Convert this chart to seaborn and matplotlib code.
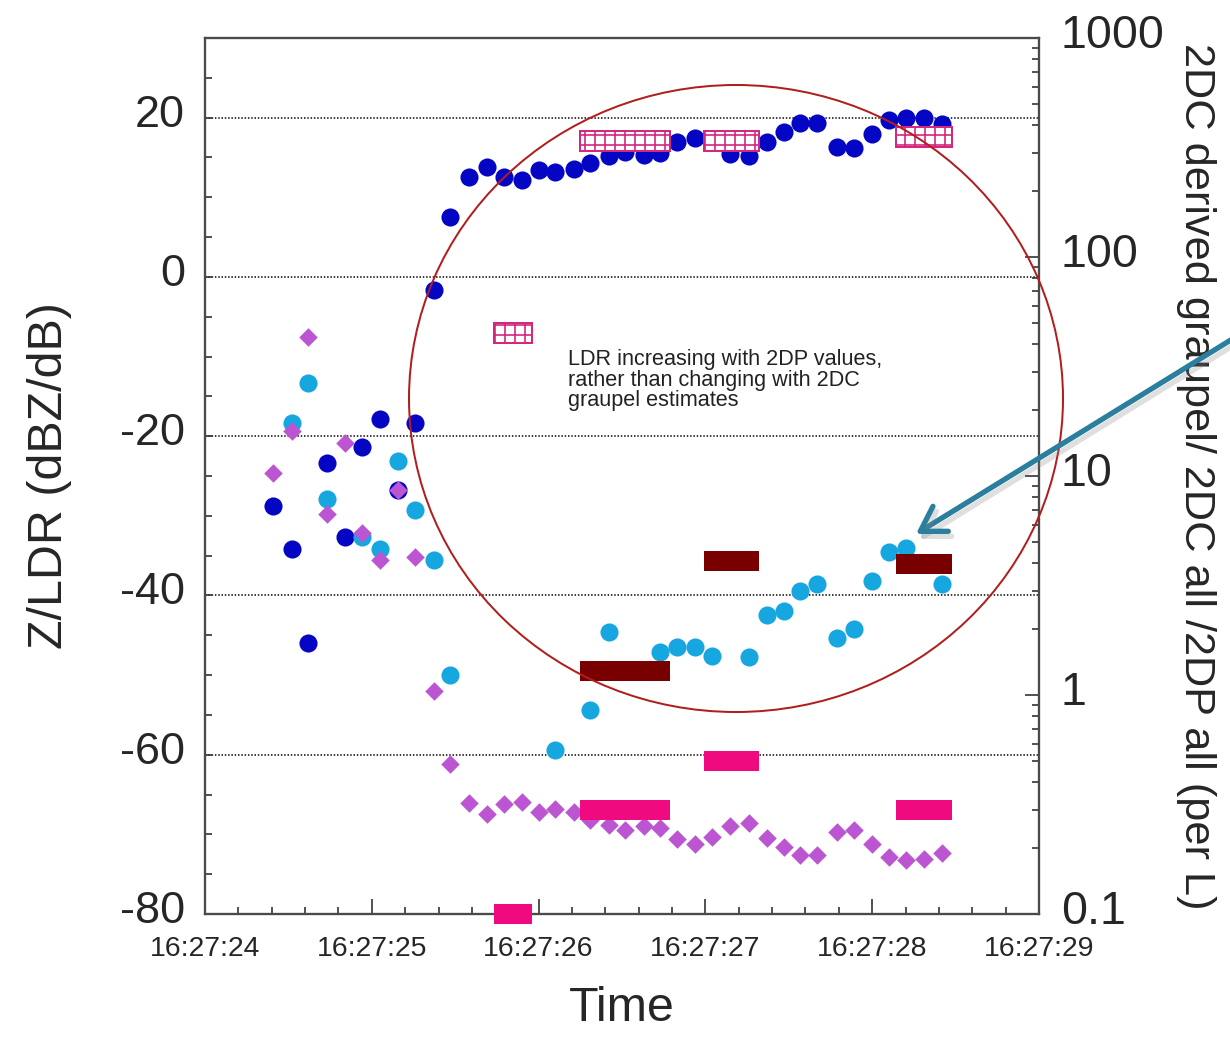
import numpy as np
import pandas as pd
import matplotlib
matplotlib.use("Agg")
import matplotlib.pyplot as plt
import seaborn as sns
from matplotlib.patches import Ellipse, FancyArrowPatch
from matplotlib.ticker import MultipleLocator, FixedLocator, FuncFormatter, LogLocator, NullFormatter
from matplotlib.transforms import ScaledTranslation
import matplotlib.patheffects as pe

# ---------------- data (seconds after 16:27:00) ----------------
time_s = [24.41, 24.52, 24.62, 24.73, 24.84, 24.94, 25.05, 25.16, 25.26, 25.37,
          25.47, 25.58, 25.69, 25.79, 25.90, 26.00, 26.10, 26.21, 26.31, 26.42,
          26.52, 26.63, 26.73, 26.83, 26.94, 27.04, 27.15, 27.26, 27.37, 27.47,
          27.57, 27.67, 27.79, 27.89, 28.00, 28.10, 28.20, 28.31, 28.42]

nan = np.nan
z_dbz = [-28.8, -34.2, -46.0, -23.4, -32.6, -21.3, -17.9, -26.7, -18.4, -1.6,
         7.5, 12.5, 13.8, 12.5, 12.2, 13.4, 13.2, 13.5, 14.3, 15.2,
         15.7, 15.3, 15.5, 16.9, 17.5, 17.0, 15.4, 15.2, 16.9, 18.2,
         19.3, 19.3, 16.3, 16.2, 18.0, 19.7, 19.9, 19.9, 19.2]

ldr_a = [nan, -18.3, -13.3, -27.9, nan, -32.6, -34.2, -23.1, -29.3, -35.6,
         -50.0, nan, nan, nan, nan, nan, -59.4, nan, -54.4, -44.6,
         nan, nan, -47.1, -46.5, -46.5, -47.6, nan, -47.7, -42.5, -42.0,
         -39.5, -38.5, -45.4, -44.2, -38.2, -34.6, -34.1, nan, -38.6]

ldr_b = [-24.6, -19.4, -7.5, -29.8, -20.9, -32.2, -35.5, -26.7, -35.2, -52.0,
         -61.2, -66.0, -67.4, -66.2, -65.9, -67.2, -66.8, -67.2, -68.2, -68.8,
         -69.4, -68.9, -69.2, -70.6, -71.2, -70.3, -69.0, -68.6, -70.4, -71.6,
         -72.6, -72.6, -69.7, -69.5, -71.2, -72.9, -73.2, -73.1, -72.3]

interval_start = [25.73, 26.25, 26.99, 28.14]
interval_end = [25.96, 26.79, 27.32, 28.48]
graupel_2dc = [45.0, 339.0, 339.0, 353.0]
all_2dc = [nan, 1.29, 4.1, 3.98]
all_2dp = [0.10, 0.30, 0.50, 0.30]

x_ticks = [24, 25, 26, 27, 28, 29]
left_ticks = [-80, -60, -40, -20, 0, 20]
right_ticks = [0.1, 1, 10, 100, 1000]
right_labels = ["0.1", "1", "10", "100", "1000"]

# ---------------- style ----------------
sns.set_theme(style="white")
plt.rcParams['font.family'] = ['Liberation Sans', 'DejaVu Sans']
plt.rcParams['hatch.linewidth'] = 1.0

DPI = 120
W, H = 1230, 1038
fig = plt.figure(figsize=(W / DPI, H / DPI), dpi=DPI)
fig.patch.set_facecolor('white')

ax = fig.add_axes([205 / W, 1 - 914 / H, 834 / W, 876 / H])
ax.set_facecolor('white')

df = pd.DataFrame({"t": time_s, "z": z_dbz, "a": ldr_a, "b": ldr_b})

sns.scatterplot(data=df, x="t", y="z", ax=ax, color="#0505c4", s=118,
                linewidth=0, marker='o', zorder=3, legend=False)
sns.scatterplot(data=df, x="t", y="a", ax=ax, color="#17a7e0", s=118,
                linewidth=0, marker='o', zorder=4, legend=False)
sns.scatterplot(data=df, x="t", y="b", ax=ax, color="#bb55d2", s=62,
                linewidth=0, marker='D', zorder=5, legend=False)

ax.set_xlim(24, 29)
ax.set_ylim(-80, 30)
ax.xaxis.set_major_locator(FixedLocator(x_ticks))
ax.xaxis.set_minor_locator(MultipleLocator(0.2))
ax.xaxis.set_major_formatter(FuncFormatter(lambda v, p: f"16:27:{v:02.0f}"))
ax.yaxis.set_major_locator(FixedLocator(left_ticks))
ax.yaxis.set_minor_locator(MultipleLocator(5))
ax.yaxis.set_major_formatter(FuncFormatter(lambda v, p: f"{v:.0f}"))

ax.grid(axis='y', which='major', linestyle=(0, (1, 1.2)), color='black', linewidth=0.9)
ax.grid(axis='x', visible=False)

ax.tick_params(axis='x', which='major', direction='in', length=9, width=1.0,
               color='#333333', labelsize=17, pad=13, top=False, bottom=True)
ax.tick_params(axis='x', which='minor', direction='in', length=4.2, width=1.0,
               color='#333333', top=False, bottom=True)
ax.tick_params(axis='y', which='both', direction='in', length=4.2, width=1.0,
               color='#333333', labelsize=27, pad=12, left=True, right=False)

ax.set_xlabel("Time", fontsize=29)
ax.xaxis.set_label_coords(0.5, -0.082)
ax.xaxis.label.set_va('top')
ax.set_ylabel("Z/LDR (dBZ/dB)", fontsize=29)
ax.yaxis.set_label_coords(-0.16, 0.5)

for s in ax.spines.values():
    s.set_color('#4a4a4a')
    s.set_linewidth(1.3)

# ---------------- right axis ----------------
ax2 = ax.twinx()
ax2.set_yscale('log')
ax2.set_ylim(0.1, 1000)

BOX_F = 10 ** (20 / 219 / 2)
t0 = np.array(interval_start)
t1 = np.array(interval_end)


def draw_boxes(vals, **kw):
    v = np.array(vals, dtype=float)
    m = ~np.isnan(v)
    bars = ax2.bar(t0[m], v[m] * BOX_F - v[m] / BOX_F, bottom=v[m] / BOX_F,
                   width=(t1 - t0)[m], align='edge', **kw)
    for b in bars:
        b.set_clip_on(False)
    return bars


draw_boxes(all_2dp, color='#ef0a80', linewidth=0, zorder=3)
draw_boxes(all_2dc, color='#780000', linewidth=0, zorder=3)
draw_boxes(graupel_2dc, facecolor='white', edgecolor='#d4287f', hatch='++',
           linewidth=1.2, zorder=3)

ax2.set_xlim(24, 29)
ax2.set_ylim(0.1, 1000)
ax2.yaxis.set_major_locator(FixedLocator(right_ticks))
ax2.yaxis.set_major_formatter(FuncFormatter(
    lambda v, p: dict(zip(right_ticks, right_labels)).get(v, "")))
ax2.yaxis.set_minor_locator(LogLocator(base=10, subs=np.arange(2, 10)))
ax2.yaxis.set_minor_formatter(NullFormatter())
ax2.tick_params(axis='y', which='major', direction='in', length=8.4, width=1.0,
                color='#333333', labelsize=28, pad=13, right=True, left=False)
ax2.tick_params(axis='y', which='minor', direction='in', length=4.2, width=1.0,
                color='#333333', right=True, left=False)
ax2.grid(False)
for s in ax2.spines.values():
    s.set_color('#4a4a4a')
    s.set_linewidth(1.3)

ax2.set_ylabel("2DC derived graupel/ 2DC all /2DP all (per L)", fontsize=26,
               rotation=-90)
ax2.yaxis.label.set_rotation_mode('default')
ax2.yaxis.label.set_va('center')
ax2.yaxis.label.set_ha('center')
ax2.yaxis.set_label_coords((1196 - 205) / 834, 0.5)

# raise the y tick labels slightly, as in the original
shift = ScaledTranslation(0, 7 / DPI, fig.dpi_scale_trans)
for tk in ax.yaxis.get_major_ticks():
    tk.label1.set_transform(tk.label1.get_transform() + shift)
for tk in ax2.yaxis.get_major_ticks():
    tk.label2.set_transform(tk.label2.get_transform() + shift)

# ---------------- annotations ----------------
ax2.text((568 - 205) / 834, (914 - 349) / 876,
         "LDR increasing with 2DP values,\nrather than changing with 2DC\ngraupel estimates",
         transform=ax2.transAxes, ha='left', va='top', fontsize=13,
         color='#222222', linespacing=0.98, zorder=6)

ell = Ellipse((736 / W, 1 - 398.5 / H), 654 / W, 627 / H,
              transform=fig.transFigure, fill=False, edgecolor='#b01e1e',
              linewidth=1.2, zorder=5)
fig.add_artist(ell)

arrow = FancyArrowPatch((1234 / W, 1 - 338 / H), (916 / W, 1 - 534 / H),
                        transform=fig.transFigure,
                        arrowstyle='->,head_length=0.65,head_width=0.4',
                        mutation_scale=22, linewidth=3.2, color='#2c7f9c',
                        shrinkA=0, shrinkB=0, zorder=6,
                        path_effects=[pe.SimpleLineShadow(offset=(2, -3), shadow_color='gray', alpha=0.25),
                                      pe.Normal()])
fig.add_artist(arrow)

fig.savefig("out.png", dpi=DPI)
